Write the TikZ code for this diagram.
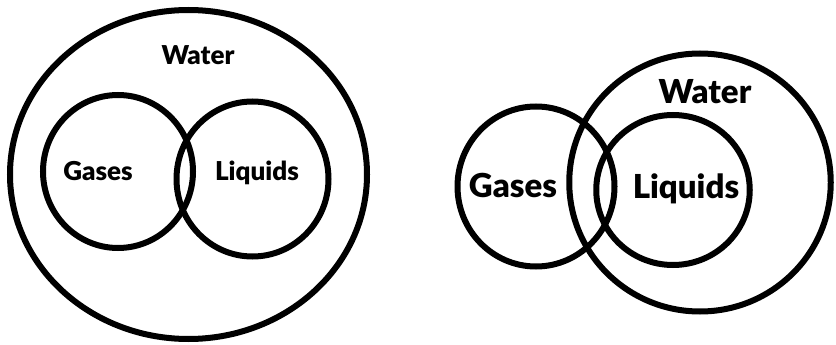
\documentclass[tikz,border=0pt]{standalone}
\usepackage{fontspec}
\setmainfont[BoldFont={Lato Black}]{Lato}
\usetikzlibrary{shapes.geometric}
\tikzset{
  ring/.style={draw=black, line width=6pt, ellipse, inner sep=0pt, outer sep=0pt},
  smalllbl/.style={font=\bfseries\fontsize{26}{31}\selectfont, anchor=base, inner sep=0pt},
  biglbl/.style={font=\bfseries\fontsize{33}{39}\selectfont, anchor=base, inner sep=0pt}
}
\begin{document}
\begin{tikzpicture}[x=1pt, y=-1pt]
\useasboundingbox (0,0) rectangle (836,345);
% left diagram
\node[ring, minimum width=357pt, minimum height=329pt] (lwater) at (188.5,174.5) {};
\node[ring, minimum width=150pt, minimum height=153pt] (lgases) at (118,171.5) {};
\node[ring, minimum width=152pt, minimum height=155pt] (lliquids) at (252.5,179) {};
\node[smalllbl] (lwatert) at (198,65) {Water};
\node[smalllbl] (lgasest) at (98,180) {Gases};
\node[smalllbl] (lliquidst) at (257,180) {Liquids};
% right diagram
\node[ring, minimum width=157pt, minimum height=160pt] (rgases) at (536,186.5) {};
\node[ring, minimum width=261.5pt, minimum height=258pt] (rwater) at (700,182.5) {};
\node[ring, minimum width=153.5pt, minimum height=150pt] (rliquids) at (673,190) {};
\node[biglbl] (rwatert) at (705,103) {Water};
\node[biglbl] (rgasest) at (513,197) {Gases};
\node[biglbl] (rliquidst) at (686,198) {Liquids};
\end{tikzpicture}
\end{document}
